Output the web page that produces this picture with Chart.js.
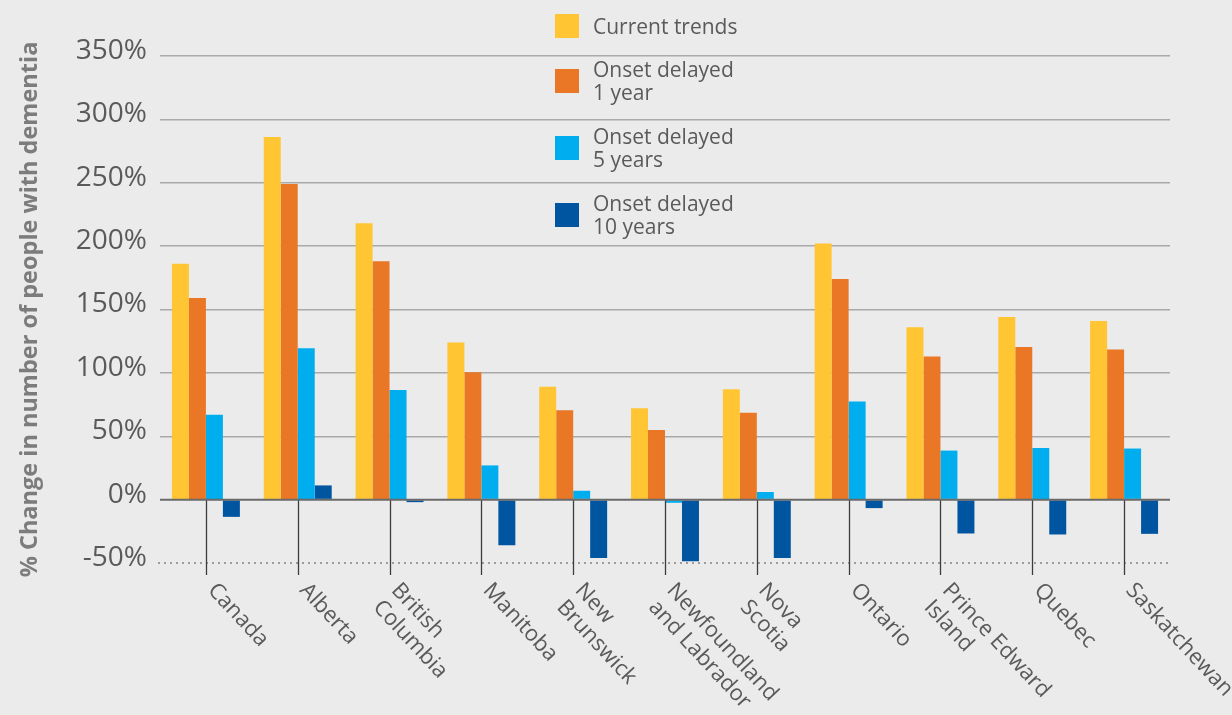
<!DOCTYPE html>
<html>
<head>
<meta charset="utf-8">
<script src="https://cdn.jsdelivr.net/npm/chart.js@4.4.1/dist/chart.umd.min.js"></script>
<style>
  html, body { margin: 0; padding: 0; background: #ebebeb; }
  #wrap { position: relative; width: 1232px; height: 715px; }
  #chart { position: absolute; left: 0; top: 0; }
  .legend { position: absolute; left: 555px; top: 0; font-family: 'Open Sans', sans-serif; font-size: 21px; color: #5a5a5a; line-height: 23px; }
  .legend .item { position: absolute; left: 0; display: flex; align-items: center; white-space: nowrap; transform: translateY(-50%); }
  .legend .swatch { width: 24px; height: 24px; margin-right: 14px; flex: none; }
</style>
</head>
<body>
<div id="wrap">
  <canvas id="chart" width="1232" height="715"></canvas>
  <div class="legend" id="legend"></div>
</div>
<script>
/* ── data ── */
const CATEGORIES = [
  ['Canada'], ['Alberta'], ['British', 'Columbia'], ['Manitoba'], ['New', 'Brunswick'],
  ['Newfoundland', 'and Labrador'], ['Nova', 'Scotia'], ['Ontario'], ['Prince Edward', 'Island'],
  ['Quebec'], ['Saskatchewan']
];
const CURRENT_TRENDS = [186, 286, 218, 124, 89, 72, 87, 202, 136, 144, 141];
const DELAYED_1      = [159, 249, 188, 100.5, 70.5, 55, 68.5, 174, 113, 120.5, 118.5];
const DELAYED_5      = [67, 119.5, 86.5, 27, 7, -2.5, 6, 77.5, 38.7, 40.8, 40.3];
const DELAYED_10     = [-13.6, 11.2, -2, -36, -46, -48.6, -46, -6.7, -26.7, -27.5, -27];
const SERIES_NAMES = [['Current trends'], ['Onset delayed', '1 year'], ['Onset delayed', '5 years'], ['Onset delayed', '10 years']];
const Y_MIN = -50, Y_MAX = 350, Y_STEP = 50;

/* ── colours ── */
const YELLOW = '#ffc533';
const ORANGE = '#e97726';
const SKY    = '#00aeef';
const NAVY   = '#0055a0';
const COLORS = [YELLOW, ORANGE, SKY, NAVY];
const TEXT   = '#5a5a5a';
const FONT   = "'Open Sans', sans-serif";

/* ── html legend ── */
const legendCenters = [26, 81, 148, 215];
document.getElementById('legend').innerHTML = SERIES_NAMES.map((lines, i) =>
  `<div class="item" style="top:${legendCenters[i]}px"><span class="swatch" style="background:${COLORS[i]}"></span><span>${lines.join('<br>')}</span></div>`
).join('');

/* ── extra lines: zero line, dotted -50 line, category ticks ── */
const axisLines = {
  id: 'axisLines',
  afterDatasetsDraw(chart) {
    const { ctx, chartArea, scales: { x, y } } = chart;
    const y0 = y.getPixelForValue(0);
    const yMin = y.getPixelForValue(Y_MIN);
    ctx.save();
    // dotted bottom line
    ctx.strokeStyle = '#9c9c9c';
    ctx.lineWidth = 2;
    ctx.setLineDash([2, 4]);
    ctx.beginPath();
    ctx.moveTo(chartArea.left - 2, yMin);
    ctx.lineTo(chartArea.right, yMin);
    ctx.stroke();
    ctx.setLineDash([]);
    // category separators below zero
    ctx.strokeStyle = '#3c3c3c';
    ctx.lineWidth = 1.3;
    CATEGORIES.forEach((_, i) => {
      const px = Math.round(x.getPixelForValue(i)) + 0.5;
      ctx.beginPath();
      ctx.moveTo(px, y0);
      ctx.lineTo(px, yMin + 12);
      ctx.stroke();
    });
    // zero line
    ctx.strokeStyle = '#6a6a6a';
    ctx.lineWidth = 2;
    ctx.beginPath();
    ctx.moveTo(chartArea.left, y0);
    ctx.lineTo(chartArea.right, y0);
    ctx.stroke();
    ctx.restore();
  }
};

/* ── rotated category labels (down-right) ── */
const categoryLabels = {
  id: 'categoryLabels',
  afterDraw(chart) {
    const { ctx, scales: { x, y } } = chart;
    const angle = 47 * Math.PI / 180;
    const top = y.getPixelForValue(Y_MIN) + 28;
    ctx.save();
    ctx.font = '22px ' + FONT;
    ctx.fillStyle = TEXT;
    ctx.textAlign = 'left';
    ctx.textBaseline = 'alphabetic';
    CATEGORIES.forEach((lines, i) => {
      ctx.save();
      ctx.translate(x.getPixelForValue(i) + 1, top);
      ctx.rotate(angle);
      lines.forEach((t, j) => ctx.fillText(t, 0, j * 25));
      ctx.restore();
    });
    ctx.restore();
  }
};

function barDataset(label, data, color) {
  return {
    label,
    data,
    backgroundColor: color,
    borderWidth: 0,
    barPercentage: 1,
    categoryPercentage: 0.74,
  };
}

new Chart(document.getElementById('chart'), {
  type: 'bar',
  data: {
    labels: CATEGORIES.map(l => l.join(' ')),
    datasets: [
      barDataset(SERIES_NAMES[0].join(' '), CURRENT_TRENDS, YELLOW),
      barDataset(SERIES_NAMES[1].join(' '), DELAYED_1, ORANGE),
      barDataset(SERIES_NAMES[2].join(' '), DELAYED_5, SKY),
      barDataset(SERIES_NAMES[3].join(' '), DELAYED_10, NAVY),
    ]
  },
  options: {
    responsive: false,
    animation: false,
    layout: { padding: { top: 56, bottom: 152, right: 62, left: 0 } },
    plugins: { legend: { display: false }, tooltip: { enabled: false } },
    scales: {
      x: { display: false, grid: { display: false } },
      y: {
        min: Y_MIN, max: Y_MAX,
        afterFit: s => { s.width = 160; },
        ticks: {
          stepSize: Y_STEP,
          callback: v => v + '%',
          padding: 13,
          labelOffset: -5,
          color: TEXT,
          font: { family: FONT, size: 28 },
        },
        grid: {
          drawTicks: false,
          lineWidth: 1.5,
          color: c => (c.tick && (c.tick.value === 0 || c.tick.value === Y_MIN)) ? 'transparent' : '#a9a9a9',
        },
        border: { display: false },
        title: {
          display: true,
          text: '% Change in number of people with dementia',
          color: '#7c7c7c',
          font: { family: FONT, size: 23.5, weight: 'bold', lineHeight: 1.2 },
          padding: { top: 16, bottom: 0 },
        }
      }
    }
  },
  plugins: [axisLines, categoryLabels]
});
</script>
</body>
</html>
